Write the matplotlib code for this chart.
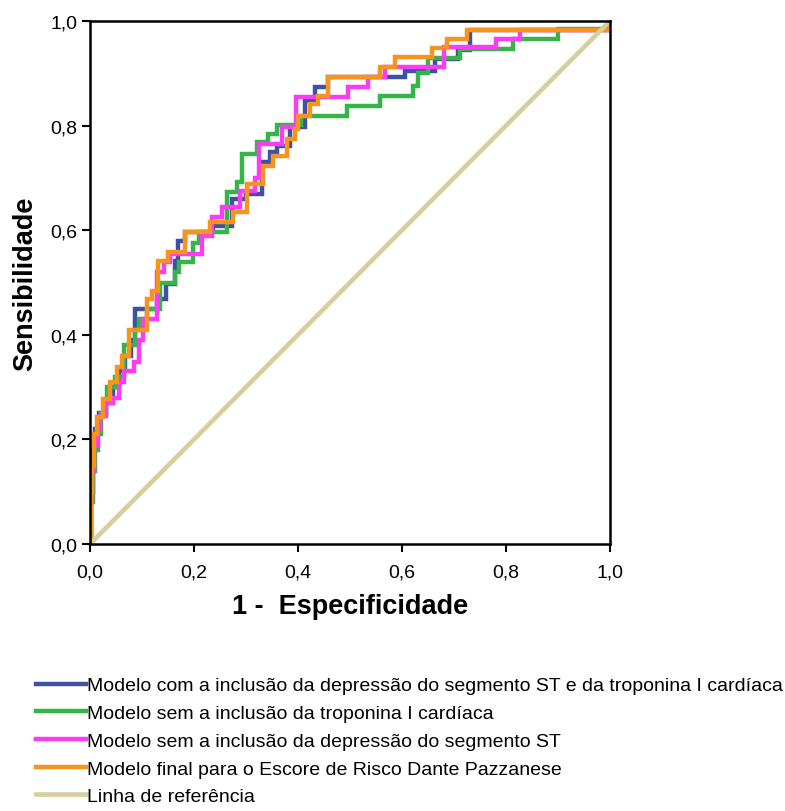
import matplotlib
matplotlib.use("Agg")
import matplotlib.pyplot as plt
from matplotlib.ticker import FuncFormatter

plt.rcParams['font.family'] = ['Liberation Sans', 'DejaVu Sans']

# pontos da curva ROC: (1 - especificidade onde a sensibilidade sobe, nova sensibilidade)
fpr_st_trop = [0, 0.002, 0.005, 0.010, 0.018, 0.030, 0.045, 0.055, 0.068, 0.078, 0.087, 0.129, 0.146,
               0.163, 0.170, 0.183, 0.236, 0.273, 0.300, 0.331, 0.346, 0.360, 0.385, 0.413, 0.433,
               0.458, 0.606, 0.663, 0.708, 0.730, 1.0]
tpr_st_trop = [0, 0.10, 0.18, 0.22, 0.25, 0.27, 0.30, 0.33, 0.36, 0.39, 0.449, 0.468, 0.497,
               0.541, 0.579, 0.597, 0.608, 0.66, 0.669, 0.73, 0.75, 0.761, 0.797, 0.847, 0.874,
               0.893, 0.904, 0.927, 0.945, 0.983, 1.0]

fpr_sem_trop = [0, 0.002, 0.005, 0.010, 0.016, 0.022, 0.030, 0.033, 0.048, 0.065, 0.087, 0.095, 0.110,
                0.135, 0.163, 0.171, 0.198, 0.210, 0.263, 0.283, 0.292, 0.321, 0.342, 0.360, 0.406,
                0.494, 0.558, 0.621, 0.630, 0.650, 0.712, 0.813, 0.900, 1.0]
tpr_sem_trop = [0, 0.08, 0.14, 0.18, 0.21, 0.25, 0.27, 0.30, 0.32, 0.38, 0.41, 0.43, 0.45,
                0.50, 0.52, 0.539, 0.575, 0.597, 0.673, 0.692, 0.746, 0.769, 0.784, 0.801, 0.818,
                0.837, 0.857, 0.876, 0.90, 0.93, 0.946, 0.966, 0.985, 1.0]

fpr_sem_st = [0, 0.002, 0.004, 0.008, 0.015, 0.020, 0.030, 0.045, 0.055, 0.065, 0.085, 0.095, 0.102,
              0.129, 0.142, 0.154, 0.215, 0.235, 0.254, 0.288, 0.317, 0.325, 0.370, 0.396, 0.496,
              0.535, 0.567, 0.680, 0.780, 0.827, 1.0]
tpr_sem_st = [0, 0.08, 0.14, 0.19, 0.22, 0.245, 0.27, 0.28, 0.31, 0.33, 0.348, 0.39, 0.43,
              0.52, 0.54, 0.555, 0.589, 0.625, 0.645, 0.675, 0.70, 0.765, 0.797, 0.855, 0.874,
              0.893, 0.912, 0.95, 0.966, 0.983, 1.0]

fpr_final = [0, 0.002, 0.004, 0.008, 0.013, 0.025, 0.038, 0.052, 0.062, 0.075, 0.109, 0.119, 0.131,
             0.150, 0.183, 0.231, 0.275, 0.302, 0.333, 0.352, 0.379, 0.394, 0.400, 0.423, 0.438,
             0.458, 0.558, 0.587, 0.658, 0.687, 0.725, 1.0]
tpr_final = [0, 0.10, 0.15, 0.21, 0.243, 0.277, 0.31, 0.338, 0.36, 0.41, 0.468, 0.484, 0.541,
             0.558, 0.597, 0.616, 0.635, 0.688, 0.723, 0.742, 0.774, 0.793, 0.818, 0.841, 0.857,
             0.893, 0.912, 0.931, 0.948, 0.966, 0.983, 1.0]

ref = [0, 1]

labels = ['Modelo com a inclusão da depressão do segmento ST e da troponina I cardíaca',
          'Modelo sem a inclusão da troponina I cardíaca',
          'Modelo sem a inclusão da depressão do segmento ST',
          'Modelo final para o Escore de Risco Dante Pazzanese',
          'Linha de referência']
colors = ['#3F51A3', '#35B44A', '#FA3CF5', '#F7941E', '#D5CF9E']

W, H = 785, 812
fig = plt.figure(figsize=(W / 100, H / 100), dpi=100)
ax = fig.add_axes([90 / W, (H - 545) / H, 520 / W, 523 / H])

curves = [(fpr_st_trop, tpr_st_trop), (fpr_sem_trop, tpr_sem_trop),
          (fpr_sem_st, tpr_sem_st), (fpr_final, tpr_final)]
handles = []
for (x, y), c, lab in zip(curves, colors, labels):
    h, = ax.step(x, y, where='post', color=c, lw=3.2, label=lab, solid_joinstyle='miter')
    handles.append(h)
h, = ax.plot(ref, ref, color=colors[4], lw=3.3, label=labels[4])
handles.append(h)

ax.set_xlim(0, 1)
ax.set_ylim(0, 1)
ticks = [0, 0.2, 0.4, 0.6, 0.8, 1.0]
ax.set_xticks(ticks)
ax.set_yticks(ticks)
fmt = FuncFormatter(lambda v, p: f'{v:.1f}'.replace('.', ','))
ax.xaxis.set_major_formatter(fmt)
ax.yaxis.set_major_formatter(fmt)
ax.tick_params(length=6, width=1.5, labelsize=14, pad=3)
ax.tick_params(axis='x', pad=8)
for s in ax.spines.values():
    s.set_linewidth(1.8)

ax.set_xlabel('1 -  Especificidade', fontsize=19.5, fontweight='bold', labelpad=9)
ax.set_ylabel('Sensibilidade', fontsize=19.5, fontweight='bold', labelpad=9)

fig.legend(handles=handles, labels=labels, loc='upper left',
           bbox_to_anchor=(28 / W, 1 - 670 / H), frameon=False,
           prop={'size': 14},
           handlelength=2.6, handletextpad=0.05, labelspacing=0.52, borderaxespad=0)

fig.savefig('out.png', dpi=100)
